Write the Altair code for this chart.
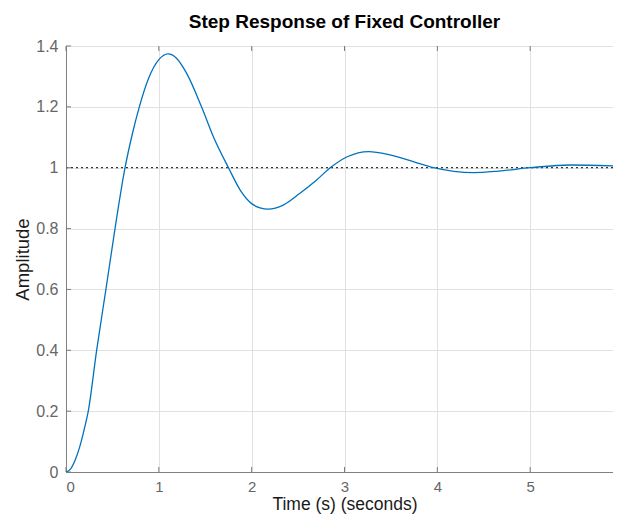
import altair as alt
import pandas as pd

# ---- data ----
time_s = [0, 0.05, 0.10, 0.15, 0.20, 0.24, 0.33, 0.43, 0.528, 0.636, 0.71, 0.79, 0.89,
          1.00, 1.10, 1.19, 1.30, 1.46, 1.59, 1.75, 1.88, 2.00, 2.09, 2.18, 2.34,
          2.52, 2.70, 2.86, 3.03, 3.26, 3.49, 3.74, 3.96, 4.18, 4.39, 4.66, 5.00,
          5.43, 6.00]
amplitude = [0, 0.01, 0.04, 0.085, 0.145, 0.2, 0.4, 0.6, 0.8, 1.0, 1.105, 1.2,
             1.294, 1.355, 1.374, 1.36, 1.31, 1.20, 1.10, 1.0, 0.925, 0.882, 0.868,
             0.864, 0.877, 0.916, 0.96, 1.003, 1.036, 1.053, 1.042, 1.02, 1.0, 0.988,
             0.984, 0.989, 1.0, 1.009, 1.005]
final_value = [1.0]
x_ticks = [0, 1, 2, 3, 4, 5, 6]
y_ticks = [0, 0.2, 0.4, 0.6, 0.8, 1.0, 1.2, 1.4]

W, H = 557, 426
FONT = "Liberation Sans"
AXIS_GRAY = "#808080"
LABEL_GRAY = "#666666"

resp = pd.DataFrame({"t": time_s, "a": amplitude})
fv = pd.DataFrame({"a": final_value})
xt = pd.DataFrame({"t": x_ticks})
yt = pd.DataFrame({"a": y_ticks})

xscale = alt.Scale(domain=[0, 6], nice=False, zero=False)
yscale = alt.Scale(domain=[0, 1.4], nice=False, zero=False)

xaxis = alt.Axis(values=x_ticks, format="d", title="Time (s) (seconds)",
                 grid=True, gridColor="#e1e1e1", ticks=False, labelPadding=7,
                 domainColor=AXIS_GRAY, labelColor=LABEL_GRAY, labelFontSize=15,
                 labelFont=FONT, titleFont=FONT, titleFontSize=17.5, titleFontWeight="normal",
                 titleColor="#1a1a1a", titleY=32, titleBaseline="middle")
yaxis = alt.Axis(values=y_ticks, format="~g", title="Amplitude",
                 grid=True, gridColor="#e1e1e1", ticks=False, labelPadding=8,
                 domainColor=AXIS_GRAY, labelColor=LABEL_GRAY, labelFontSize=16,
                 labelFont=FONT, titleFont=FONT, titleFontSize=18.5, titleFontWeight="normal",
                 titleColor="#1a1a1a", titleX=-44, titleBaseline="middle")

base_line = alt.Chart(resp).mark_line(color="#0072BD", strokeWidth=1.3, interpolate="monotone").encode(
    x=alt.X("t:Q", scale=xscale, axis=xaxis),
    y=alt.Y("a:Q", scale=yscale, axis=yaxis),
)

dotted = alt.Chart(fv).mark_rule(color="#333333", strokeWidth=1.2, strokeDash=[2, 3]).encode(
    y=alt.Y("a:Q", scale=yscale),
)

# inward ticks (MATLAB style) on all four sides
tick_color = "#7a7a7a"
tb = alt.Chart(xt).mark_rule(color=tick_color).encode(
    x=alt.X("t:Q", scale=xscale), y=alt.value(H), y2=alt.value(H - 5))
tt = alt.Chart(xt).mark_rule(color=tick_color).encode(
    x=alt.X("t:Q", scale=xscale), y=alt.value(0), y2=alt.value(5))
tl = alt.Chart(yt).mark_rule(color=tick_color).encode(
    y=alt.Y("a:Q", scale=yscale), x=alt.value(0), x2=alt.value(5))
tr = alt.Chart(yt).mark_rule(color=tick_color).encode(
    y=alt.Y("a:Q", scale=yscale), x=alt.value(W), x2=alt.value(W - 5))

chart = alt.layer(dotted, tb, tt, tl, tr, base_line).properties(
    width=W, height=H,
    title=alt.TitleParams("Step Response of Fixed Controller", font=FONT, fontSize=19,
                          fontWeight="bold", color="#000000", offset=6, anchor="middle"),
    autosize=alt.AutoSizeParams(type="none"),
    padding={"left": 58, "top": 38, "right": -10, "bottom": 42},
).configure_view(stroke=AXIS_GRAY, strokeWidth=1).configure(background="white")

chart.save("out.html", embed_options={"renderer": "svg", "actions": False})
